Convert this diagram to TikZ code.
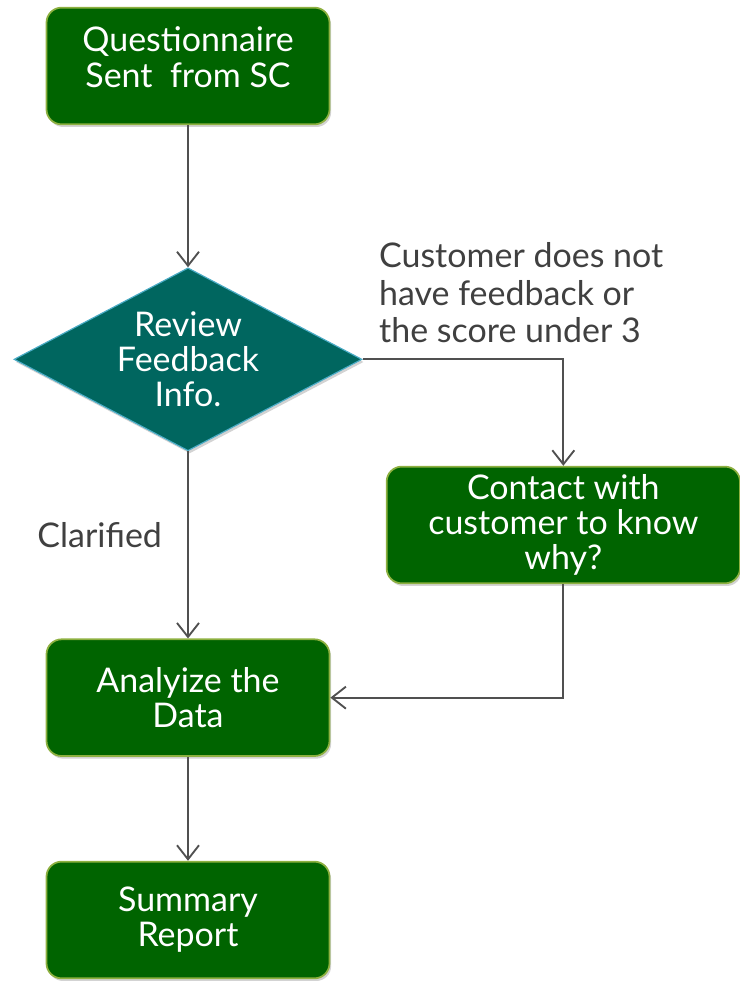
\documentclass[tikz,border=0pt]{standalone}
\usepackage{fontspec}
\setmainfont{Lato}
\usetikzlibrary{shapes.geometric,shadows}
\definecolor{boxgreen}{HTML}{006400}
\definecolor{boxedge}{HTML}{8DB040}
\definecolor{dteal}{HTML}{00665F}
\definecolor{dedge}{HTML}{4BACC6}
\definecolor{linegray}{HTML}{505050}
\tikzset{
  stepbox/.style={rectangle, rounded corners=0.45cm, fill=boxgreen, draw=boxedge,
    line width=1.5pt, text=white, align=center, minimum width=8.49cm,
    minimum height=3.5cm, inner sep=0pt, font=\fontsize{29}{30}\selectfont,
    drop shadow={shadow xshift=0.05cm, shadow yshift=-0.08cm, opacity=0.35}},
  decide/.style={diamond, aspect=1.9, inner sep=0pt, fill=dteal, draw=dedge,
    line width=1pt, text=white, align=center, minimum width=10.44cm,
    minimum height=5.49cm, font=\fontsize{29}{30}\selectfont,
    drop shadow={shadow xshift=0.05cm, shadow yshift=-0.08cm, opacity=0.35}},
  flow/.style={draw=linegray, line width=1.6pt, ->, >={Straight Barb[length=0.42cm, width=0.66cm]}},
  note/.style={text=linegray!80!black, align=left, font=\fontsize{29}{32}\selectfont}
}
\usetikzlibrary{arrows.meta}
\begin{document}
\begin{tikzpicture}
        \useasboundingbox (0,0) rectangle (22.2,29.43);
        \node[stepbox] (q_sent) at (5.64,27.45) {Questionnaire\\Sent\ \ from SC\\[-0.52cm]};
        \node[decide] (review) at (5.64,18.65) {Review\\Feedback\\Info.};
        \node[stepbox, minimum width=10.6cm] (contact) at (16.9,13.68) {Contact with\\customer to know\\why?};
        \node[stepbox] (analyze) at (5.64,8.5) {Analyize the\\Data};
        \node[stepbox] (summary) at (5.64,1.83) {Summary\\Report};
        \node[note, anchor=west] (no_fb) at (11.25,20.65) {Customer does not\\have feedback or\\the score under 3};
        \node[note, anchor=west] (clar) at (1.0,13.38) {Clarified};
        \draw[flow] (q_sent) -- (review);
        \draw[flow] (review.east) -| (contact.north);
        \draw[flow] (review) -- (analyze);
        \draw[flow] (contact.south) |- (analyze.east);
        \draw[flow] (analyze) -- (summary);
    \end{tikzpicture}
\end{document}
